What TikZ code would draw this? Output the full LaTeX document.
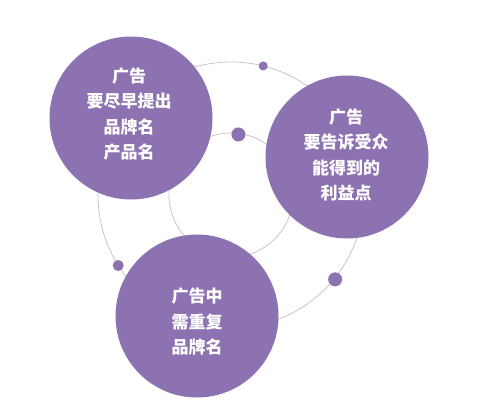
\documentclass[tikz,border=0pt]{standalone}
\usepackage{fontspec}
\newfontfamily\cjk{Noto Sans CJK SC}
\definecolor{adpurple}{RGB}{141,114,177}
\definecolor{ringgray}{RGB}{198,198,198}

\begin{document}
\begin{tikzpicture}[x=1pt,y=-1pt,
  bubble/.style={circle,fill=adpurple,minimum size=163pt,inner sep=0pt},
  bubbletext/.style={text=white,align=center,
    font=\cjk\bfseries\fontsize{17}{25.5}\selectfont},
  ring/.style={draw=ringgray,line width=0.8pt},
  dot/.style={circle,fill=adpurple,inner sep=0pt}]
\useasboundingbox (0,0) rectangle (486,410);
\coordinate (hub) at (231,195);

% rings behind the bubbles
\draw [ring] (hub) circle (133pt);
\draw [ring] (hub) circle (62pt);

\node [dot,minimum size=9pt]  (dottop)   at ([shift={(-76:133)}]hub) {};
\node [dot,minimum size=11pt] (dotleft)  at ([shift={(148:133)}]hub) {};
\node [dot,minimum size=14pt] (dotright) at ([shift={(39:134)}]hub) {};
\node [dot,minimum size=14pt] (dotinner) at ([shift={(-83:61)}]hub) {};

% the three bubbles
\node [bubble] (early)   at (131,118) {};
\node [bubble] (benefit) at (347,157) {};
\node [bubble] (repeat)  at (197,316) {};

\node [bubbletext] (earlytext)   at (129,114) {广告\\要尽早提出\\品牌名\\产品名};
\node [bubbletext] (benefittext) at (346,155) {广告\\要告诉受众\\能得到的\\利益点};
\node [bubbletext] (repeattext)  at (197,322) {广告中\\需重复\\品牌名};
\end{tikzpicture}
\end{document}
